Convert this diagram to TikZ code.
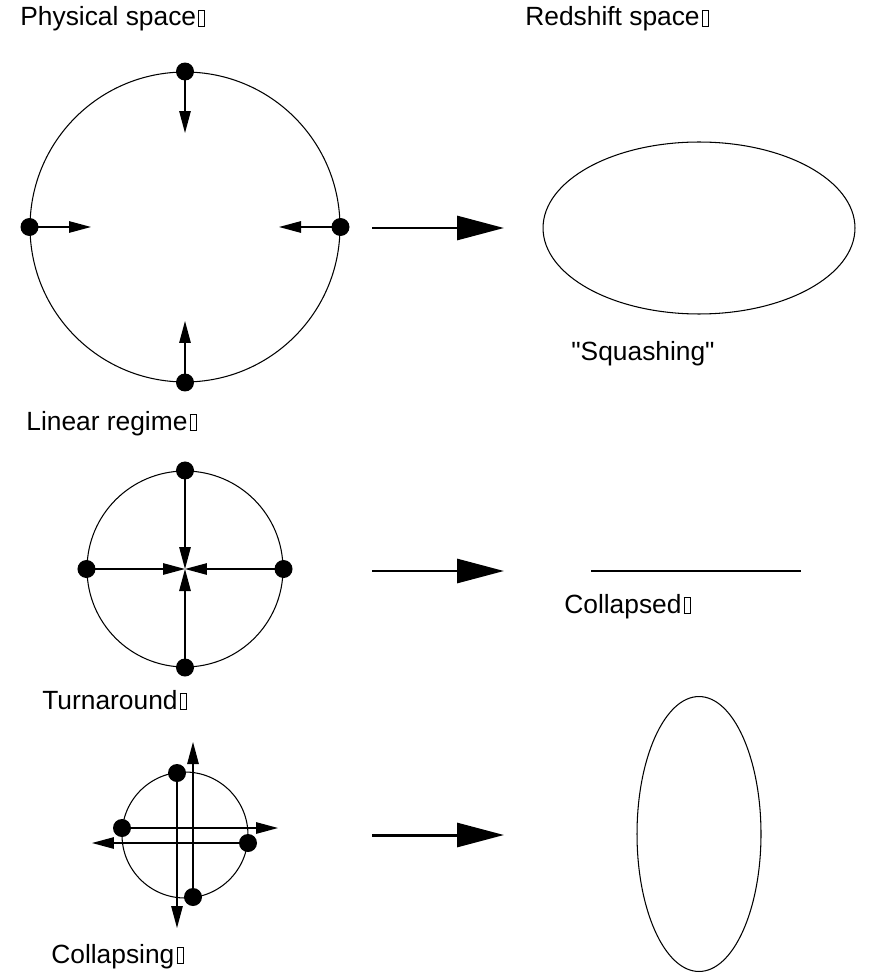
\documentclass[tikz,border=0pt]{standalone}
\usepackage{fontspec}
\setmainfont{Liberation Sans}
\newfontfamily\labelfont{Liberation Sans}
\usetikzlibrary{arrows.meta,shapes.geometric}
\newcommand{\missbox}{\kern1.2pt{\setlength{\fboxsep}{0pt}\setlength{\fboxrule}{0.5pt}\fbox{\rule{0pt}{8.5pt}\hspace{3pt}}}}
\begin{document}
\begin{tikzpicture}[
    x=0.02cm, y=-0.02cm,
    caption/.style={anchor=base west, inner sep=0pt, font=\labelfont\fontsize{15}{17}\selectfont},
    ring/.style={circle, draw, line width=0.6pt, inner sep=0pt},
    dot/.style={circle, fill, inner sep=0pt, minimum size=0.36cm},
    push/.style={-{Triangle[length=0.44cm, width=0.23cm]}, line width=0.7pt},
    mapto/.style={-{Triangle[length=0.94cm, width=0.48cm]}, line width=1.7pt}
]
    \useasboundingbox (0,0) rectangle (875,976);

    \node[caption] (physical) at (20,26) {Physical space\missbox};
    \node[caption] (redshift) at (525,26) {Redshift space\missbox};

    % linear regime
    \node[ring, minimum size=6.2cm] (linring) at (185,227) {};
    \node[dot] (lintop) at (linring.north) {};
    \node[dot] (linleft) at (linring.west) {};
    \node[dot] (linright) at (linring.east) {};
    \node[dot] (linbottom) at (linring.south) {};
    \coordinate (lintopend) at (185,133);
    \coordinate (linleftend) at (91,227);
    \coordinate (linrightend) at (279,227);
    \coordinate (linbottomend) at (185,321);
    \draw[push] (lintop.center) -- (lintopend);
    \draw[push] (linleft.center) -- (linleftend);
    \draw[push] (linright.center) -- (linrightend);
    \draw[push] (linbottom.center) -- (linbottomend);
    \node[caption] (linear) at (26,430) {Linear regime\missbox};

    \coordinate (map1a) at (372,228);
    \coordinate (map1b) at (504,228);
    \draw[mapto] (map1a) -- (map1b);
    \node[ellipse, draw, line width=0.6pt, inner sep=0pt, minimum width=6.24cm, minimum height=3.44cm] (squashed) at (699,228) {};
    \node[caption] (squashing) at (571,360) {"Squashing"};

    % turnaround
    \node[ring, minimum size=3.92cm] (turnring) at (185,569) {};
    \coordinate (turncentre) at (185,569);
    \node[dot] (turntop) at (turnring.north) {};
    \node[dot] (turnleft) at (turnring.west) {};
    \node[dot] (turnright) at (turnring.east) {};
    \node[dot] (turnbottom) at (turnring.south) {};
    \draw[push] (turntop.center) -- (turncentre);
    \draw[push] (turnleft.center) -- (turncentre);
    \draw[push] (turnright.center) -- (turncentre);
    \draw[push] (turnbottom.center) -- (turncentre);
    \node[caption] (turnaround) at (42,709) {Turnaround\missbox};

    \coordinate (map2a) at (372,571);
    \coordinate (map2b) at (504,571);
    \draw[mapto] (map2a) -- (map2b);
    \coordinate (flatleft) at (591,571);
    \coordinate (flatright) at (801,571);
    \draw[line width=0.6pt] (flatleft) -- (flatright);
    \node[caption] (collapsed) at (564,613) {Collapsed\missbox};

    % collapsing
    \node[ring, minimum size=2.52cm] (colring) at (185,835) {};
    \node[dot] (coltop) at (177,773) {};
    \node[dot] (colleft) at (122,828) {};
    \node[dot] (colright) at (248,843) {};
    \node[dot] (colbottom) at (193,897) {};
    \coordinate (coltopend) at (177,928);
    \coordinate (colleftend) at (278,828);
    \coordinate (colrightend) at (92,843);
    \coordinate (colbottomend) at (193,742);
    \draw[push] (coltop.center) -- (coltopend);
    \draw[push] (colleft.center) -- (colleftend);
    \draw[push] (colright.center) -- (colrightend);
    \draw[push] (colbottom.center) -- (colbottomend);
    \node[caption] (collapsing) at (51,963) {Collapsing\missbox};

    \coordinate (map3a) at (372,835);
    \coordinate (map3b) at (504,835);
    \draw[mapto] (map3a) -- (map3b);
    \node[ellipse, draw, line width=0.6pt, inner sep=0pt, minimum width=2.48cm, minimum height=5.5cm] (stretched) at (699,834) {};
\end{tikzpicture}
\end{document}
